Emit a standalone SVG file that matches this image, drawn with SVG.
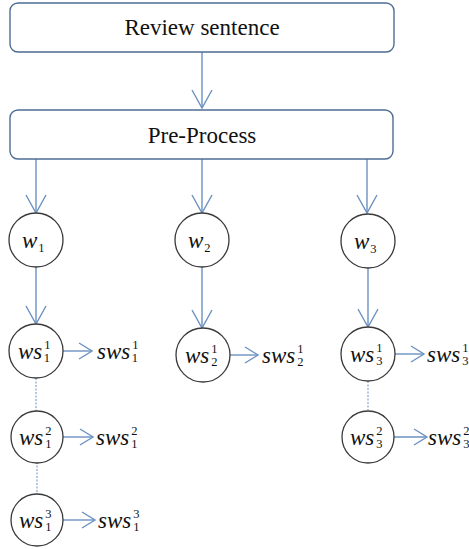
<svg xmlns="http://www.w3.org/2000/svg" width="469" height="549" viewBox="0 0 469 549">
<style>
.box{fill:#fff;stroke:#4f6d94;stroke-width:1.4}
.nd{fill:#fff;stroke:#3a3a3a;stroke-width:1.3}
.ln{stroke:#6b91c2;stroke-width:1.4;fill:none}
.dash{stroke:#6b91c2;stroke-width:1;stroke-dasharray:2,1.5;fill:none}
.t{font-family:"Liberation Serif",serif;font-size:23px;fill:#111;text-anchor:middle}
.m{font-family:"Liberation Serif",serif;font-style:italic;font-size:23px;fill:#111}
.s{font-family:"Liberation Serif",serif;font-style:normal;font-size:12.5px}
</style>
<defs>
<marker id="ad" markerUnits="userSpaceOnUse" markerWidth="20" markerHeight="22" refX="18" refY="10" orient="auto" overflow="visible">
<path d="M0,0 L18,10 L0,20" fill="none" stroke="#6b91c2" stroke-width="1.4"/>
</marker>
<marker id="as" markerUnits="userSpaceOnUse" markerWidth="16" markerHeight="18" refX="13" refY="8" orient="auto" overflow="visible">
<path d="M0,0 L13,8 L0,16" fill="none" stroke="#6b91c2" stroke-width="1.4"/>
</marker>
</defs>
<g id="connectors">
<line class="ln" x1="202" y1="52" x2="202" y2="108" marker-end="url(#ad)"/>
<line class="ln" x1="36" y1="159" x2="36" y2="213" marker-end="url(#ad)"/>
<line class="ln" x1="202" y1="159" x2="202" y2="213" marker-end="url(#ad)"/>
<line class="ln" x1="367" y1="159" x2="367" y2="213" marker-end="url(#ad)"/>
<line class="ln" x1="36" y1="267" x2="36" y2="324" marker-end="url(#ad)"/>
<line class="ln" x1="202" y1="267" x2="202" y2="328" marker-end="url(#ad)"/>
<line class="ln" x1="368" y1="268" x2="368" y2="327" marker-end="url(#ad)"/>
<line class="dash" x1="36" y1="378" x2="36" y2="411"/>
<line class="dash" x1="37" y1="462" x2="37" y2="494"/>
<line class="dash" x1="368" y1="381" x2="368" y2="410"/>
<line class="ln" x1="63" y1="351" x2="92" y2="351" marker-end="url(#as)"/>
<line class="ln" x1="62" y1="437" x2="93" y2="437" marker-end="url(#as)"/>
<line class="ln" x1="63" y1="520" x2="95" y2="520" marker-end="url(#as)"/>
<line class="ln" x1="230" y1="355" x2="258" y2="355" marker-end="url(#as)"/>
<line class="ln" x1="395" y1="354" x2="424" y2="354" marker-end="url(#as)"/>
<line class="ln" x1="394" y1="437" x2="427" y2="437" marker-end="url(#as)"/>
</g>
<g id="review">
<rect class="box" x="10" y="3" width="384" height="49" rx="8"/>
<text class="t" x="202" y="35">Review sentence</text>
</g>
<g id="preprocess">
<rect class="box" x="10" y="110" width="383" height="49" rx="8"/>
<text class="t" x="202" y="143">Pre-Process</text>
</g>
<g id="w1">
<circle class="nd" cx="36" cy="240" r="27"/>
<text class="m" x="22" y="248">w<tspan class="s" font-size="14" dx="1" dy="4">1</tspan></text>
</g>
<g id="w2">
<circle class="nd" cx="202" cy="240" r="27"/>
<text class="m" x="188" y="248">w<tspan class="s" font-size="14" dx="1" dy="4">2</tspan></text>
</g>
<g id="w3">
<circle class="nd" cx="368" cy="241" r="27"/>
<text class="m" x="354" y="249">w<tspan class="s" font-size="14" dx="1" dy="4">3</tspan></text>
</g>
<g id="ws11">
<circle class="nd" cx="36" cy="351" r="27"/>
<text class="m" x="18" y="359">ws<tspan class="s" dx="2" dy="-10">1</tspan><tspan class="s" dx="-6.25" dy="13">1</tspan></text>
</g>
<g id="ws12">
<circle class="nd" cx="37" cy="437" r="26"/>
<text class="m" x="19" y="445">ws<tspan class="s" dx="2" dy="-10">2</tspan><tspan class="s" dx="-6.25" dy="13">1</tspan></text>
</g>
<g id="ws13">
<circle class="nd" cx="37" cy="520" r="26"/>
<text class="m" x="19" y="528">ws<tspan class="s" dx="2" dy="-10">3</tspan><tspan class="s" dx="-6.25" dy="13">1</tspan></text>
</g>
<g id="ws21">
<circle class="nd" cx="203" cy="355" r="27"/>
<text class="m" x="185" y="363">ws<tspan class="s" dx="2" dy="-10">1</tspan><tspan class="s" dx="-6.25" dy="13">2</tspan></text>
</g>
<g id="ws31">
<circle class="nd" cx="368" cy="354" r="27"/>
<text class="m" x="350" y="362">ws<tspan class="s" dx="2" dy="-10">1</tspan><tspan class="s" dx="-6.25" dy="13">3</tspan></text>
</g>
<g id="ws32">
<circle class="nd" cx="368" cy="437" r="26"/>
<text class="m" x="350" y="445">ws<tspan class="s" dx="2" dy="-10">2</tspan><tspan class="s" dx="-6.25" dy="13">3</tspan></text>
</g>
<g id="labels">
<text class="m" x="97" y="359">sws<tspan class="s" dx="2" dy="-10">1</tspan><tspan class="s" dx="-6.25" dy="13">1</tspan></text>
<text class="m" x="96" y="445">sws<tspan class="s" dx="2" dy="-10">2</tspan><tspan class="s" dx="-6.25" dy="13">1</tspan></text>
<text class="m" x="98" y="528">sws<tspan class="s" dx="2" dy="-10">3</tspan><tspan class="s" dx="-6.25" dy="13">1</tspan></text>
<text class="m" x="262" y="363">sws<tspan class="s" dx="2" dy="-10">1</tspan><tspan class="s" dx="-6.25" dy="13">2</tspan></text>
<text class="m" x="427" y="362">sws<tspan class="s" dx="2" dy="-10">1</tspan><tspan class="s" dx="-6.25" dy="13">3</tspan></text>
<text class="m" x="428" y="445">sws<tspan class="s" dx="2" dy="-10">2</tspan><tspan class="s" dx="-6.25" dy="13">3</tspan></text>
</g>
</svg>
